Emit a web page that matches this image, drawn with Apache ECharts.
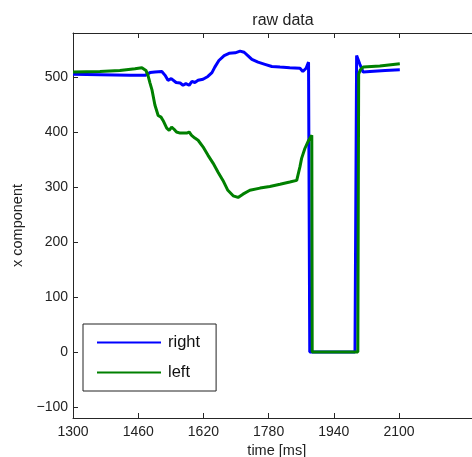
<!DOCTYPE html>
<html>
<head>
<meta charset="utf-8">
<script src="https://cdn.jsdelivr.net/npm/echarts@6/dist/echarts.min.js"></script>
<style>html,body{margin:0;padding:0;background:#fff}#c{width:472px;height:457px}</style>
</head>
<body>
<div id="c"></div>
<script>
const titleText = 'raw data';
const xName = 'time [ms]';
const yName = 'x component';
const xTicks = [1300, 1460, 1620, 1780, 1940, 2100];
const yTicks = [-100, 0, 100, 200, 300, 400, 500];
const seriesNames = ['right', 'left'];

const rightTime = [1300,1366,1440,1477,1489,1501,1518,1526,1533,1541,1545,1553,1563,1570,1577,1585,1592,1599,1607,1619,1631,1641,1648,1658,1671,1683,1698,1710,1720,1729,1739,1754,1771,1788,1808,1832,1857,1864,1872,1878,1881,1992,1996,2004,2012,2029,2066,2102];
const rightX = [505,504,503,503,508,509,510,503,494,497,496,490,489,485,488,485,492,490,494,496,501,508,518,530,539,543,544,547,545,539,532,527,523,519,518,517,516,510,516,527,0,0,539,523,509,510,512,513];

const leftTime = [1300,1366,1415,1452,1469,1479,1484,1489,1494,1501,1509,1516,1521,1530,1536,1542,1548,1554,1563,1579,1585,1591,1599,1607,1619,1631,1644,1656,1668,1680,1693,1705,1717,1734,1759,1783,1808,1832,1849,1857,1861,1869,1877,1886,1887,1999,2001,2005,2012,2053,2102];
const leftX = [509,510,512,515,517,512,503,489,476,449,430,427,421,407,403,409,405,400,398,398,400,394,389,385,373,358,343,327,312,294,284,281,287,294,298,301,305,309,312,337,352,370,383,394,0,0,505,513,518,520,524];

const font = "'Liberation Sans', Arial, Helvetica, sans-serif";
const axisColor = '#262626';
const numFmt = v => (v < 0 ? '\u2212' + Math.abs(v) : String(v));

const chart = echarts.init(document.getElementById('c'), null, {renderer: 'canvas'});
chart.setOption({
  animation: false,
  backgroundColor: '#fff',
  title: {
    text: titleText, left: 278, top: 8, textAlign: 'center',
    textStyle: {fontFamily: font, fontSize: 16, fontWeight: 'normal', color: '#222'}
  },
  grid: {left: 73, top: 33, width: 407.5, height: 385, containLabel: false, outerBoundsMode: 'none'},
  legend: {
    orient: 'vertical', left: 83, top: 324,
    data: seriesNames,
    itemWidth: 64, itemHeight: 16, itemGap: 13,
    padding: [10, 16, 10, 13],
    backgroundColor: '#fff', borderColor: '#222', borderWidth: 1, borderRadius: 0,
    lineStyle: {width: 2},
    itemStyle: {opacity: 0, borderWidth: 0},
    textStyle: {fontFamily: font, fontSize: 16.5, color: '#111', padding: [0, 0, 0, 2]}
  },
  xAxis: [{
    type: 'value', min: 1300, max: 2300, position: 'bottom',
    name: xName, nameLocation: 'middle', nameGap: 20,
    nameTextStyle: {fontFamily: font, fontSize: 14.5, color: '#222'},
    axisLine: {show: true, onZero: false, lineStyle: {color: axisColor, width: 1}},
    axisTick: {show: true, inside: true, length: 5, customValues: xTicks, lineStyle: {color: axisColor}},
    axisLabel: {show: true, customValues: xTicks, formatter: numFmt, margin: 7, fontFamily: font, fontSize: 14, color: '#222'},
    splitLine: {show: false}
  }, {
    type: 'value', min: 1300, max: 2300, position: 'top',
    axisLine: {show: true, onZero: false, lineStyle: {color: axisColor, width: 1}},
    axisTick: {show: true, inside: true, length: 5, customValues: xTicks, lineStyle: {color: axisColor}},
    axisLabel: {show: false},
    splitLine: {show: false}
  }],
  yAxis: [{
    type: 'value', min: -120, max: 580,
    name: yName, nameLocation: 'middle', nameGap: 47,
    nameTextStyle: {fontFamily: font, fontSize: 14.5, color: '#222'},
    axisLine: {show: true, onZero: false, lineStyle: {color: axisColor, width: 1}},
    axisTick: {show: true, inside: true, length: 5, customValues: yTicks, lineStyle: {color: axisColor}},
    axisLabel: {show: true, customValues: yTicks, formatter: numFmt, margin: 5, fontFamily: font, fontSize: 14, color: '#222'},
    splitLine: {show: false}
  }],
  series: [{
    name: seriesNames[0], type: 'line', symbol: 'none', smooth: false,
    data: rightTime.map((t, i) => [t, rightX[i]]),
    lineStyle: {color: '#0000ff', width: 3},
    itemStyle: {color: '#0000ff'}
  }, {
    name: seriesNames[1], type: 'line', symbol: 'none', smooth: false,
    data: leftTime.map((t, i) => [t, leftX[i]]),
    lineStyle: {color: '#008000', width: 3},
    itemStyle: {color: '#008000'}
  }]
});
</script>
</body>
</html>
